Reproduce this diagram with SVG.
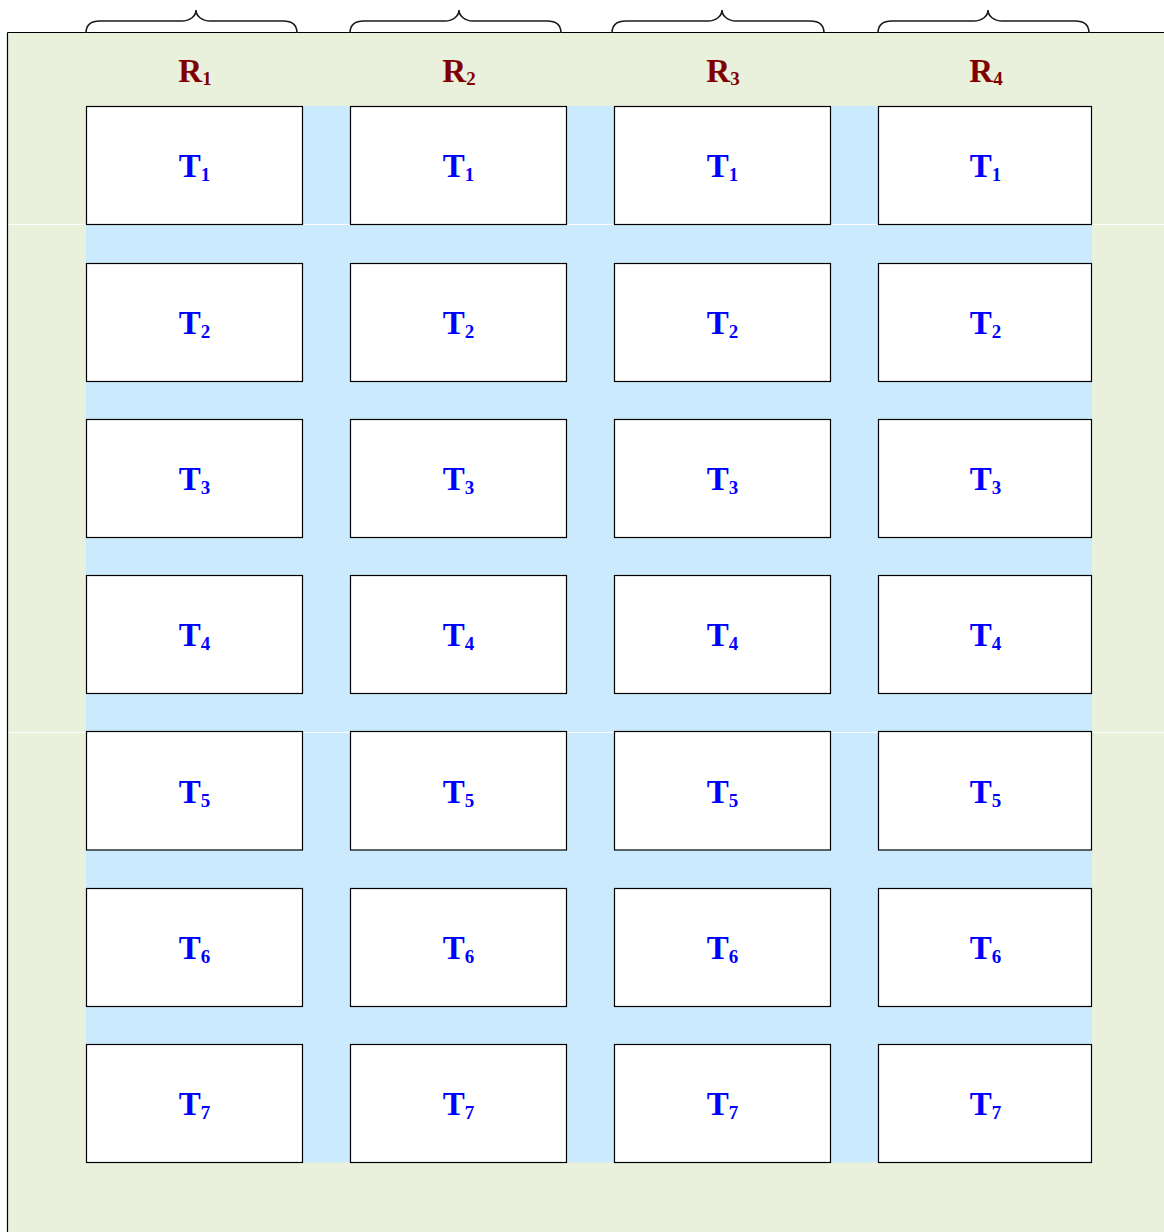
<svg xmlns="http://www.w3.org/2000/svg" width="1164" height="1232" viewBox="0 0 1164 1232">
<defs>
<style>
.box{fill:#ffffff;stroke:#000000;stroke-width:1.2}
.brace{fill:none;stroke:#1a1a1a;stroke-width:1.6}
.t{font-family:"Liberation Serif","Times New Roman",serif;font-weight:bold;font-size:33px;fill:#0000ff;text-anchor:middle}
.r{font-family:"Liberation Serif","Times New Roman",serif;font-weight:bold;font-size:33px;fill:#800000;text-anchor:middle}
.sub{font-size:19px}
</style>
</defs>
<rect width="1164" height="1232" fill="#ffffff"/>
<g id="frame">
<rect x="8" y="32.5" width="1160" height="1204" fill="#e9f0dc"/>
<rect x="86" y="106" width="1006" height="1056.5" fill="#cbeafd"/>
<line x1="8" y1="224.5" x2="1164" y2="224.5" stroke="#ffffff" stroke-width="1"/>
<line x1="8" y1="732.5" x2="1164" y2="732.5" stroke="#ffffff" stroke-width="1"/>
<line x1="7.5" y1="32.5" x2="7.5" y2="1232" stroke="#000" stroke-width="1.2"/>
<line x1="7.5" y1="32.5" x2="1164" y2="32.5" stroke="#000" stroke-width="1.2"/>
</g>
<g id="braces">
<path class="brace" d="M86,33 C86,25 90,21 100,21 L182,21 C190,21 196,16 196,10 C196,16 202,21 210,21 L283,21 C293,21 297,25 297,33"/>
<path class="brace" d="M350,33 C350,25 354,21 364,21 L445,21 C453,21 459,16 459,10 C459,16 465,21 473,21 L547,21 C557,21 561,25 561,33"/>
<path class="brace" d="M612,33 C612,25 616,21 626,21 L708,21 C716,21 722,16 722,10 C722,16 728,21 736,21 L810,21 C820,21 824,25 824,33"/>
<path class="brace" d="M878,33 C878,25 882,21 892,21 L974,21 C982,21 988,16 988,10 C988,16 994,21 1002,21 L1075,21 C1085,21 1089,25 1089,33"/>
</g>
<g id="labels">
<text class="r" x="195" y="82">R<tspan class="sub" dy="3">1</tspan></text>
<text class="r" x="459" y="82">R<tspan class="sub" dy="3">2</tspan></text>
<text class="r" x="723" y="82">R<tspan class="sub" dy="3">3</tspan></text>
<text class="r" x="986" y="82">R<tspan class="sub" dy="3">4</tspan></text>
</g>
<g id="connectors"></g>
<g id="col1">
<g id="c1t1"><rect class="box" x="86.5" y="106.5" width="216" height="118"/><text class="t" x="194.5" y="177">T<tspan class="sub" dy="4">1</tspan></text></g>
<g id="c1t2"><rect class="box" x="86.5" y="263.5" width="216" height="118"/><text class="t" x="194.5" y="334">T<tspan class="sub" dy="4">2</tspan></text></g>
<g id="c1t3"><rect class="box" x="86.5" y="419.5" width="216" height="118"/><text class="t" x="194.5" y="490">T<tspan class="sub" dy="4">3</tspan></text></g>
<g id="c1t4"><rect class="box" x="86.5" y="575.5" width="216" height="118"/><text class="t" x="194.5" y="646">T<tspan class="sub" dy="4">4</tspan></text></g>
<g id="c1t5"><rect class="box" x="86.5" y="731.5" width="216" height="118.5"/><text class="t" x="194.5" y="803">T<tspan class="sub" dy="4">5</tspan></text></g>
<g id="c1t6"><rect class="box" x="86.5" y="888.5" width="216" height="118"/><text class="t" x="194.5" y="959">T<tspan class="sub" dy="4">6</tspan></text></g>
<g id="c1t7"><rect class="box" x="86.5" y="1044.5" width="216" height="118"/><text class="t" x="194.5" y="1115">T<tspan class="sub" dy="4">7</tspan></text></g>
</g>
<g id="col2">
<g id="c2t1"><rect class="box" x="350.5" y="106.5" width="216" height="118"/><text class="t" x="458.5" y="177">T<tspan class="sub" dy="4">1</tspan></text></g>
<g id="c2t2"><rect class="box" x="350.5" y="263.5" width="216" height="118"/><text class="t" x="458.5" y="334">T<tspan class="sub" dy="4">2</tspan></text></g>
<g id="c2t3"><rect class="box" x="350.5" y="419.5" width="216" height="118"/><text class="t" x="458.5" y="490">T<tspan class="sub" dy="4">3</tspan></text></g>
<g id="c2t4"><rect class="box" x="350.5" y="575.5" width="216" height="118"/><text class="t" x="458.5" y="646">T<tspan class="sub" dy="4">4</tspan></text></g>
<g id="c2t5"><rect class="box" x="350.5" y="731.5" width="216" height="118.5"/><text class="t" x="458.5" y="803">T<tspan class="sub" dy="4">5</tspan></text></g>
<g id="c2t6"><rect class="box" x="350.5" y="888.5" width="216" height="118"/><text class="t" x="458.5" y="959">T<tspan class="sub" dy="4">6</tspan></text></g>
<g id="c2t7"><rect class="box" x="350.5" y="1044.5" width="216" height="118"/><text class="t" x="458.5" y="1115">T<tspan class="sub" dy="4">7</tspan></text></g>
</g>
<g id="col3">
<g id="c3t1"><rect class="box" x="614.5" y="106.5" width="216" height="118"/><text class="t" x="722.5" y="177">T<tspan class="sub" dy="4">1</tspan></text></g>
<g id="c3t2"><rect class="box" x="614.5" y="263.5" width="216" height="118"/><text class="t" x="722.5" y="334">T<tspan class="sub" dy="4">2</tspan></text></g>
<g id="c3t3"><rect class="box" x="614.5" y="419.5" width="216" height="118"/><text class="t" x="722.5" y="490">T<tspan class="sub" dy="4">3</tspan></text></g>
<g id="c3t4"><rect class="box" x="614.5" y="575.5" width="216" height="118"/><text class="t" x="722.5" y="646">T<tspan class="sub" dy="4">4</tspan></text></g>
<g id="c3t5"><rect class="box" x="614.5" y="731.5" width="216" height="118.5"/><text class="t" x="722.5" y="803">T<tspan class="sub" dy="4">5</tspan></text></g>
<g id="c3t6"><rect class="box" x="614.5" y="888.5" width="216" height="118"/><text class="t" x="722.5" y="959">T<tspan class="sub" dy="4">6</tspan></text></g>
<g id="c3t7"><rect class="box" x="614.5" y="1044.5" width="216" height="118"/><text class="t" x="722.5" y="1115">T<tspan class="sub" dy="4">7</tspan></text></g>
</g>
<g id="col4">
<g id="c4t1"><rect class="box" x="878.5" y="106.5" width="213" height="118"/><text class="t" x="985.5" y="177">T<tspan class="sub" dy="4">1</tspan></text></g>
<g id="c4t2"><rect class="box" x="878.5" y="263.5" width="213" height="118"/><text class="t" x="985.5" y="334">T<tspan class="sub" dy="4">2</tspan></text></g>
<g id="c4t3"><rect class="box" x="878.5" y="419.5" width="213" height="118"/><text class="t" x="985.5" y="490">T<tspan class="sub" dy="4">3</tspan></text></g>
<g id="c4t4"><rect class="box" x="878.5" y="575.5" width="213" height="118"/><text class="t" x="985.5" y="646">T<tspan class="sub" dy="4">4</tspan></text></g>
<g id="c4t5"><rect class="box" x="878.5" y="731.5" width="213" height="118.5"/><text class="t" x="985.5" y="803">T<tspan class="sub" dy="4">5</tspan></text></g>
<g id="c4t6"><rect class="box" x="878.5" y="888.5" width="213" height="118"/><text class="t" x="985.5" y="959">T<tspan class="sub" dy="4">6</tspan></text></g>
<g id="c4t7"><rect class="box" x="878.5" y="1044.5" width="213" height="118"/><text class="t" x="985.5" y="1115">T<tspan class="sub" dy="4">7</tspan></text></g>
</g>
</svg>
